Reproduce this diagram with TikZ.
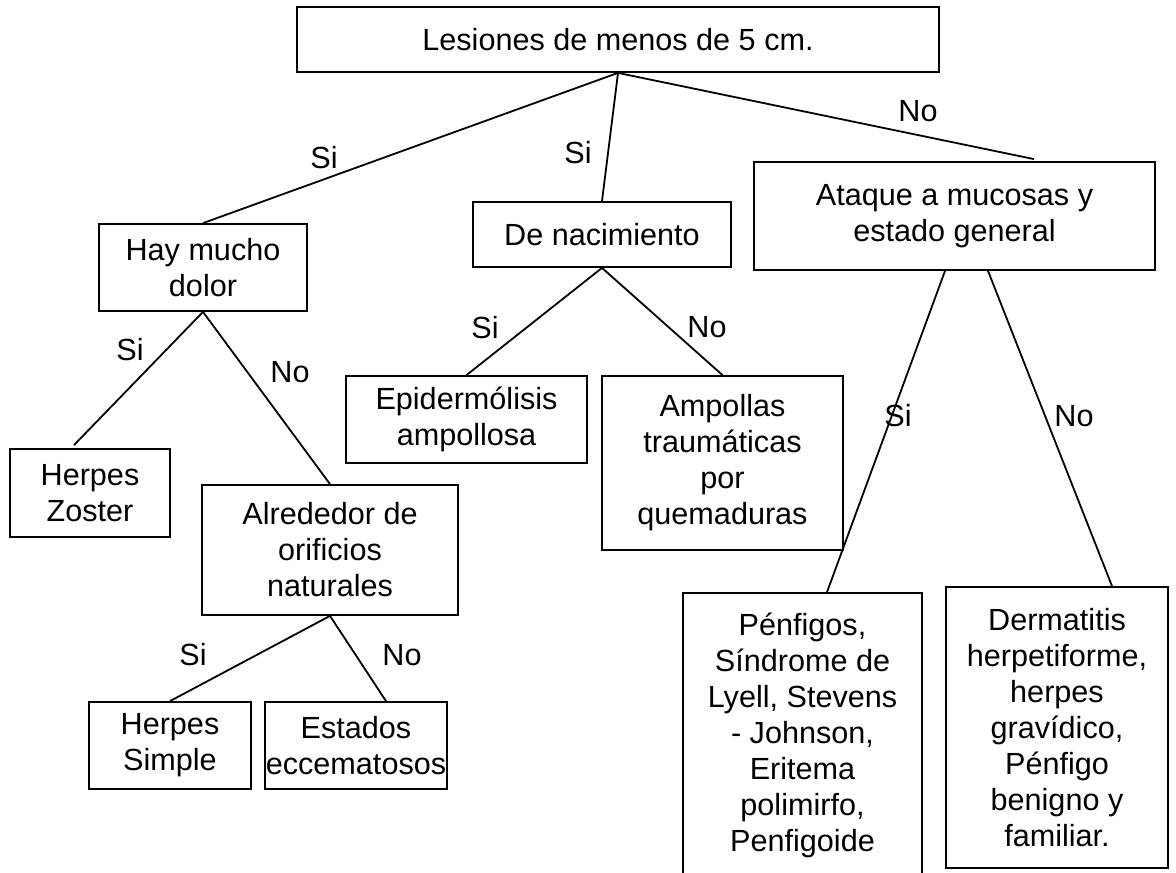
\documentclass[tikz,border=0pt]{standalone}
\usepackage{fontspec}
\setmainfont{Liberation Sans}

\begin{document}
\begin{tikzpicture}[x=0.5pt,y=-0.5pt,line width=0.9pt,
  txt/.style={font=\fontsize{15.3pt}{18pt}\selectfont},
  box/.style={txt,draw,align=center,inner sep=0pt},
  answer/.style={txt,inner sep=0pt}]
\useasboundingbox (0,0) rectangle (1176,872);
\clip (0,0) rectangle (1176,872);
% boxes
\node[box,minimum width=321pt,minimum height=32.5pt] (root) at (618,39.5) {Lesiones de menos de 5 cm.};
\node[box,minimum width=104pt,minimum height=43.5pt] (hay) at (203,267.5) {Hay mucho\\dolor};
\node[box,minimum width=129pt,minimum height=32.5pt] (nacim) at (602,234.5) {De nacimiento};
\node[box,minimum width=200.5pt,minimum height=54pt] (atq) at (954.5,216) {Ataque a mucosas y\\estado general};
\node[box,minimum width=80pt,minimum height=44pt] (zoster) at (90,493) {Herpes\\Zoster};
\node[box,minimum width=128pt,minimum height=65pt] (alr) at (330,550) {Alrededor de\\orificios\\naturales};
\node[box,minimum width=120.5pt,minimum height=43.5pt] (epi) at (466.5,419.5) {Epidermólisis\\ampollosa};
\node[box,minimum width=120.5pt,minimum height=87pt] (amp) at (722.5,463) {Ampollas\\traumáticas\\por\\quemaduras};
\node[box,minimum width=81pt,minimum height=43.5pt] (hs) at (170,745.5) {Herpes\\Simple};
\node[box,minimum width=91pt,minimum height=43.5pt] (est) at (356,745.5) {Estados\\eccematosos};
\node[box,minimum width=119.5pt,minimum height=142pt] (pen) at (802.5,735) {Pénfigos,\\Síndrome de\\Lyell, Stevens\\- Johnson,\\Eritema\\polimirfo,\\Penfigoide};
\node[box,minimum width=111pt,minimum height=140.5pt] (derm) at (1057,727.5) {Dermatitis\\herpetiforme,\\herpes\\gravídico,\\Pénfigo\\benigno y\\familiar.};
% line ends off the box centres
\coordinate (atqin) at ([xshift=39.75pt,yshift=1pt]atq.north);
\coordinate (zosin) at ([xshift=-8pt,yshift=1.5pt]zoster.north);
\coordinate (estin) at ([xshift=15pt]est.north);
\coordinate (atqsi) at ([xshift=-4.75pt]atq.south);
\coordinate (atqno) at ([xshift=16.75pt]atq.south);
\coordinate (penin) at ([xshift=12.25pt]pen.north);
\coordinate (dermin) at ([xshift=27.5pt]derm.north);
% branches
\draw (root.south) -- (hay.north);
\draw (root.south) -- (nacim.north);
\draw (root.south) -- (atqin);
\draw (hay.south) -- (zosin);
\draw (hay.south) -- (alr.north);
\draw (nacim.south) -- (epi.north);
\draw (nacim.south) -- (amp.north);
\draw (alr.south) -- (hs.north);
\draw (alr.south) -- (estin);
\draw (atqsi) -- (penin);
\draw (atqno) -- (dermin);
% Si / No
\foreach \ans/\pos [count=\i] in {Si/{324,158},Si/{578,153},No/{918,111},Si/{130,350},No/{290,372},Si/{485,328},No/{707,327},Si/{193,655},No/{402,655},Si/{898,416},No/{1074,416}}
  { \node[answer] (ans\i) at (\pos) {\ans}; }
\end{tikzpicture}
\end{document}
